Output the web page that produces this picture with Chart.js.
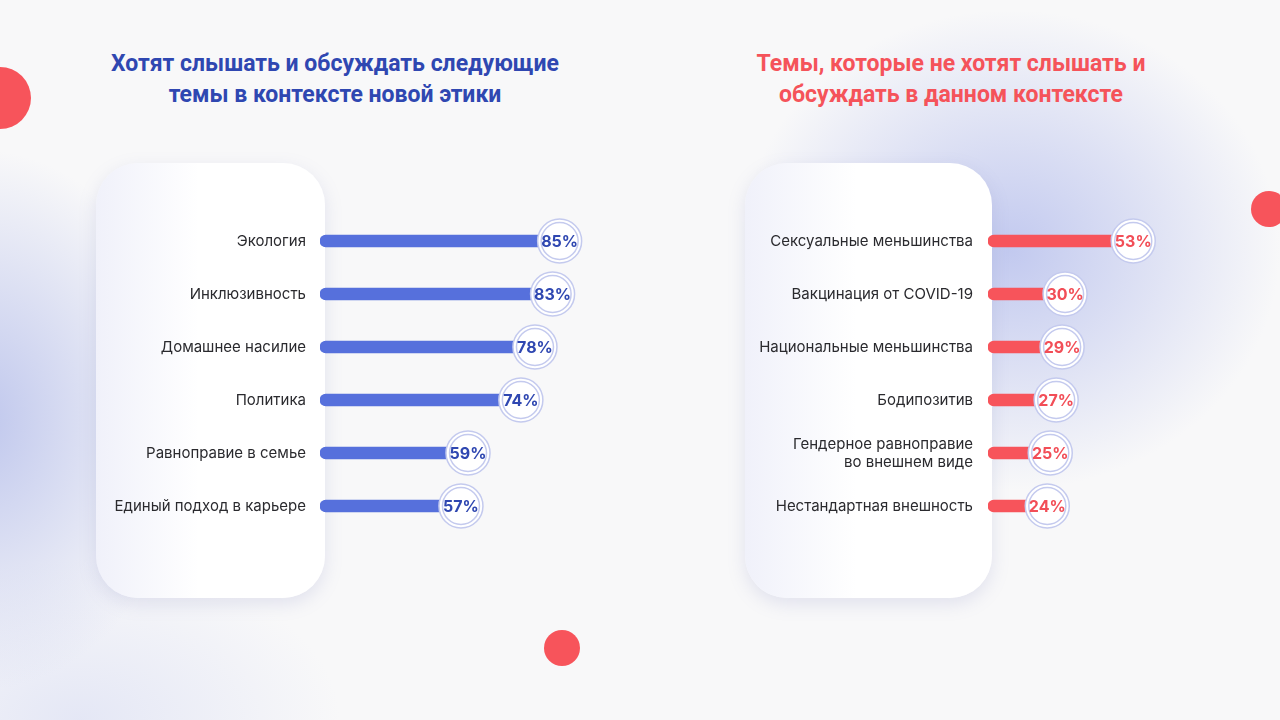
<!DOCTYPE html>
<html lang="ru">
<head>
<meta charset="utf-8">
<script src="https://cdn.jsdelivr.net/npm/chart.js@4/dist/chart.umd.min.js"></script>
<style>
  html, body { margin: 0; padding: 0; }
  body {
    width: 1280px; height: 720px; overflow: hidden; position: relative;
    background:
      radial-gradient(ellipse 270px 240px at 1010px 250px, rgba(188,196,238,0.9), rgba(188,196,238,0) 100%),
      radial-gradient(ellipse 210px 270px at -20px 420px, rgba(188,196,236,0.95), rgba(188,196,236,0) 100%),
      radial-gradient(ellipse 260px 160px at 80px 720px, rgba(220,224,244,0.7), rgba(220,224,244,0) 100%),
      #f8f8f9;
    font-family: Roboto, "Noto Sans", sans-serif;
  }
  .title {
    position: absolute; top: 48px; width: 560px; text-align: center;
    font-family: Roboto, sans-serif; font-weight: 700; font-size: 23px; line-height: 31px;
  }
  .card {
    position: absolute; top: 163px; height: 435px; border-radius: 42px;
    background: linear-gradient(90deg, #f0f1fa 0%, #ffffff 45%, #ffffff 100%);
    box-shadow: 0 6px 18px rgba(120,130,190,0.18);
  }
  .dot { position: absolute; border-radius: 50%; background: #f7545b; }
  canvas { position: absolute; }
</style>
</head>
<body>
<div class="title" style="left:55px; color:#2f47b1;">Хотят слышать и обсуждать следующие<br>темы в контексте новой этики</div>
<div class="title" style="left:671px; color:#f5535a;">Темы, которые не хотят слышать и<br>обсуждать в данном контексте</div>

<div class="card" style="left:96px; width:229px;"></div>
<div class="card" style="left:745px; width:247px;"></div>

<div class="dot" style="left:-31px; top:67px; width:62px; height:62px;"></div>
<div class="dot" style="left:1251px; top:191px; width:36px; height:36px;"></div>
<div class="dot" style="left:544px; top:630px; width:36px; height:36px;"></div>

<div style="position:absolute; left:90px; top:200px; width:560px; height:350px;"><canvas id="leftChart"></canvas></div>
<div style="position:absolute; left:740px; top:200px; width:470px; height:350px;"><canvas id="rightChart"></canvas></div>

<script>
//data for the left chart (want to hear)
const wantLabels = ["Экология", "Инклюзивность", "Домашнее насилие", "Политика", "Равноправие в семье", "Единый подход в карьере"];
const wantValues = [85, 83, 78, 74, 59, 57];

//data for the right chart (do not want to hear)
const notWantLabels = ["Сексуальные меньшинства", "Вакцинация от COVID-19", "Национальные меньшинства", "Бодипозитив", ["Гендерное равноправие", "во внешнем виде"], "Нестандартная внешность"];
const notWantValues = [53, 30, 29, 27, 25, 24];

//draws the round badge with the percent at the end of every bar
const badgePlugin = {
  id: "badge",
  afterDatasetsDraw(chart, args, opts) {
    const ctx = chart.ctx;
    const meta = chart.getDatasetMeta(0);
    const values = chart.data.datasets[0].data;
    meta.data.forEach((bar, i) => {
      const x = bar.x, y = bar.y;
      ctx.save();
      ctx.beginPath();
      ctx.arc(x, y, 22, 0, Math.PI * 2);
      ctx.fillStyle = "#ffffff";
      ctx.fill();
      ctx.lineWidth = 1.5;
      ctx.strokeStyle = "#c4caee";
      ctx.stroke();
      ctx.beginPath();
      ctx.arc(x, y, 18.5, 0, Math.PI * 2);
      ctx.stroke();
      ctx.fillStyle = opts.color;
      ctx.font = "700 16px Inter, Roboto, sans-serif";
      ctx.textAlign = "center";
      ctx.textBaseline = "middle";
      ctx.fillText(values[i] + "%", x, y + 1);
      ctx.restore();
    });
  }
};

function makeChart(id, labels, values, color, textColor, axisWidth, min, max, padRight, tickPad) {
  return new Chart(document.getElementById(id), {
    type: "bar",
    data: {
      labels: labels,
      datasets: [{
        data: values,
        base: min, //bars start at the left edge of the plot
        backgroundColor: color,
        barThickness: 12,
        borderRadius: 6,
        borderSkipped: false
      }]
    },
    options: {
      indexAxis: "y",
      responsive: true,
      maintainAspectRatio: false,
      animation: false,
      layout: { padding: { top: 14.5, bottom: 17.5, right: padRight, left: 0 } },
      plugins: {
        legend: { display: false },
        tooltip: { enabled: false },
        badge: { color: textColor }
      },
      scales: {
        x: { display: false, min: min, max: max },
        y: {
          grid: { display: false },
          border: { display: false },
          afterFit: (s) => { s.width = axisWidth; s.paddingTop = 0; s.paddingBottom = 0; },
          ticks: {
            color: "#2a2a2e",
            padding: tickPad,
            font: { family: "Inter, 'Noto Sans', sans-serif", size: 15 }
          }
        }
      }
    },
    plugins: [badgePlugin]
  });
}

makeChart("leftChart", wantLabels, wantValues, "#5670dc", "#2f47b1", 230, 17, 100, 37.5, 6);
makeChart("rightChart", notWantLabels, notWantValues, "#f7545b", "#f24e57", 248, 4, 60, 56, 7);
</script>
</body>
</html>
